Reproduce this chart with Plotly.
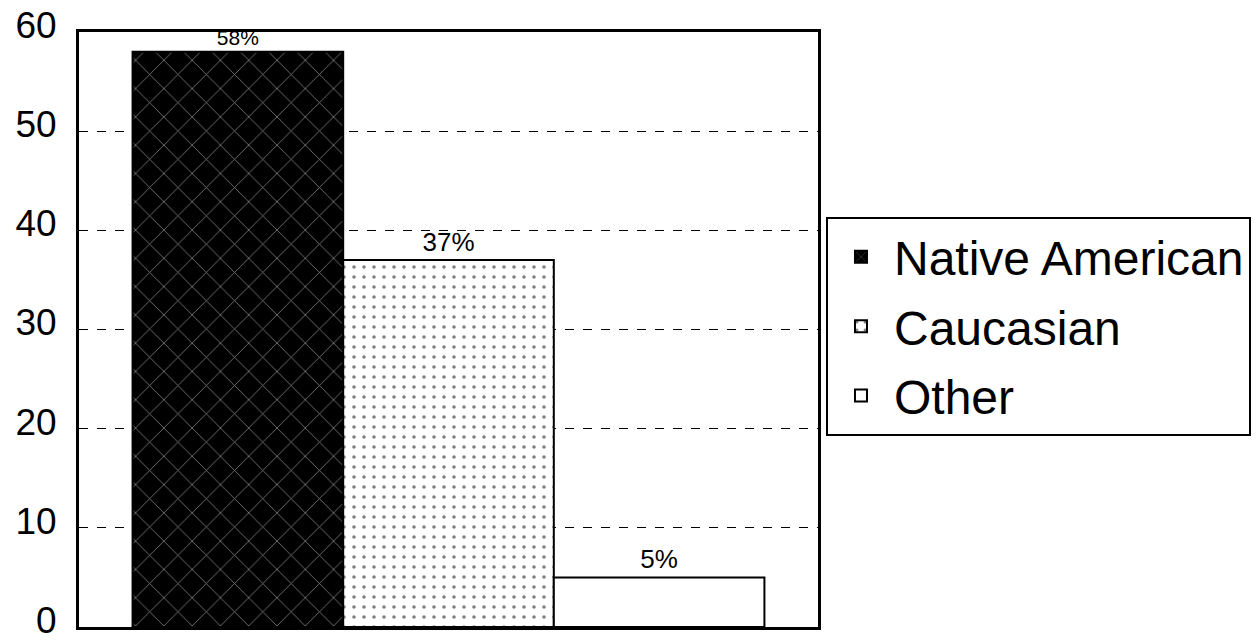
import plotly.graph_objects as go

categories = ["Native American", "Caucasian", "Other"]
values = [58, 37, 5]
labels = ["58%", "37%", "5%"]

bg_colors = ["black", "white", "white"]
fg_colors = ["white", "black", "black"]
shapes = ["x", ".", ""]
pat_sizes = [20, 10, 10]
solids = [0.08, 0.1, 0.3]
label_sizes = [21, 26, 26]

fig = go.Figure()
for i, (name, v, lab, bg, fg, sh) in enumerate(zip(categories, values, labels, bg_colors, fg_colors, shapes)):
    fig.add_trace(go.Bar(
        x=[""], y=[v], name=name, text=[lab], textposition="outside",
        legendgroup="g%d" % i,
        textfont=dict(family="Arial, Liberation Sans", size=label_sizes[i], color="black"),
        cliponaxis=False,
        marker=dict(color=bg, line=dict(color="black", width=2),
                    pattern=dict(shape=sh, fgcolor=fg, bgcolor=bg,
                                 size=pat_sizes[i], solidity=solids[i])),
    ))

fig.update_layout(
    width=1251, height=627,
    margin=dict(l=71, r=439, t=24, b=8),
    paper_bgcolor="white", plot_bgcolor="white",
    barmode="group", bargap=0.145, bargroupgap=0,
    font=dict(family="Arial, Liberation Sans", color="black"),
    showlegend=True,
    legend=dict(x=1.0108, y=0.689, xanchor="left", yanchor="top",
                bordercolor="black", borderwidth=2, bgcolor="white",
                font=dict(size=48, color="black"), tracegroupgap=4,
                itemwidth=56),
    xaxis=dict(showticklabels=False, showline=True, linecolor="black", linewidth=3,
               mirror=True, ticks=""),
    yaxis=dict(range=[0, 60], tickvals=[0, 10, 20, 30, 40, 50, 60],
               tickfont=dict(size=37, color="black"),
               ticklabelshift=-7, ticklabelstandoff=12, ticklabeloverflow="allow",
               showline=True, linecolor="black", linewidth=3, mirror=True,
               showgrid=True, gridcolor="black", gridwidth=1, griddash="dash",
               zeroline=False, ticks="", ticklen=0, automargin=False),
)

fig.write_html("out.html", config={"displayModeBar": False})
